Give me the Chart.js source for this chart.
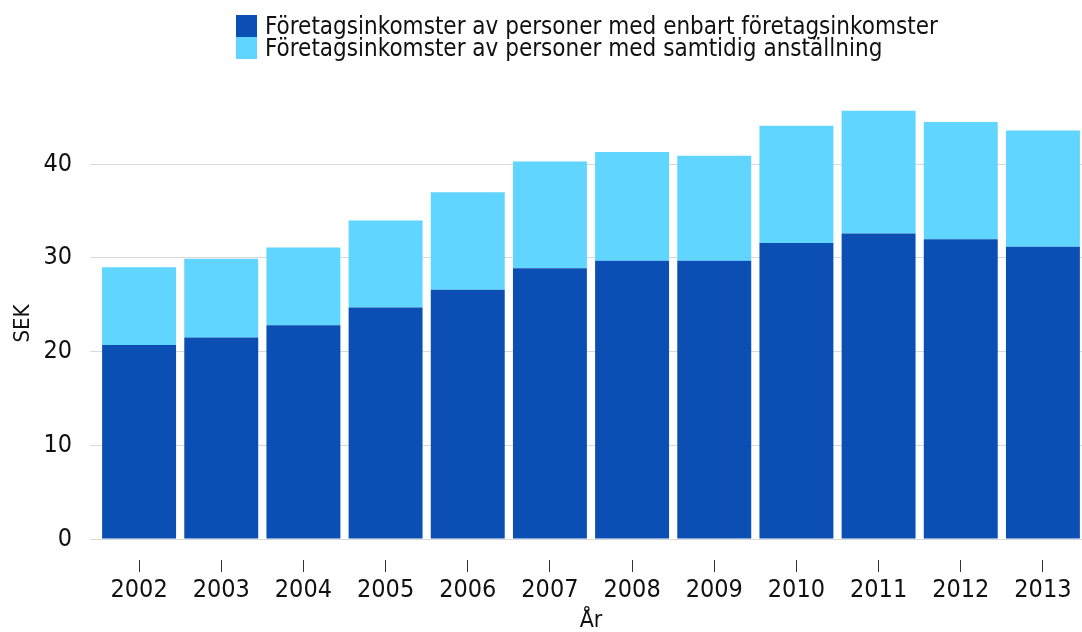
<!DOCTYPE html>
<html><head><meta charset="utf-8">
<script src="https://cdn.jsdelivr.net/npm/chart.js@4"></script>
<style>
html,body{margin:0;padding:0;background:#fff;overflow:hidden;width:1082px;height:632px;}
#wrap{position:absolute;left:0;top:0;width:1084px;height:632px;}
#legend{position:absolute;left:236px;top:15px;font-family:"DejaVu Sans Condensed","DejaVu Sans";font-size:24px;color:#111;line-height:22px;}
.li{display:flex;align-items:center;height:22px;}
.sw{width:21px;height:22px;margin-right:8px;flex:none;}
</style></head>
<body>
<div id="wrap"><canvas id="c" width="1084" height="632"></canvas></div>
<div id="legend"></div>
<script>
const categories = ["2002","2003","2004","2005","2006","2007","2008","2009","2010","2011","2012","2013"];
const seriesNames = ["Företagsinkomster av personer med enbart företagsinkomster","Företagsinkomster av personer med samtidig anställning"];
const onlyBusiness = [20.7,21.5,22.8,24.7,26.6,28.9,29.7,29.7,31.6,32.6,32.0,31.2];
const withEmployment = [8.3,8.4,8.3,9.3,10.4,11.4,11.6,11.2,12.5,13.1,12.5,12.4];
const yTicks = [0,10,20,30,40];
const colors = ["#0B4FB5","#5FD5FF"];
const FONT = "'DejaVu Sans Condensed','DejaVu Sans'";

const leg = document.getElementById('legend');
seriesNames.forEach((n,i)=>{
  const d=document.createElement('div');d.className='li';
  const s=document.createElement('span');s.className='sw';s.style.background=colors[i];
  const t=document.createElement('span');t.textContent=n;
  d.appendChild(s);d.appendChild(t);leg.appendChild(d);
});

new Chart(document.getElementById('c'),{
  type:'bar',
  data:{labels:categories,datasets:[
    {label:seriesNames[0],data:onlyBusiness,backgroundColor:colors[0],borderWidth:0},
    {label:seriesNames[1],data:withEmployment,backgroundColor:colors[1],borderWidth:0}
  ]},
  options:{
    responsive:false,animation:false,
    layout:{padding:{left:10,top:108,right:0,bottom:0}},
    plugins:{legend:{display:false},tooltip:{enabled:false}},
    datasets:{bar:{barPercentage:0.9,categoryPercentage:1}},
    scales:{
      x:{stacked:true,
        border:{display:false},
        grid:{offset:false,drawOnChartArea:false,tickLength:33,tickBorderDash:[0,21,12,100],tickColor:'#333',tickWidth:1},
        ticks:{padding:3,color:'#111',font:{family:FONT,size:25}},
        title:{display:true,text:'År',color:'#111',font:{family:FONT,size:23},padding:{top:0,bottom:-3}},
        afterFit:s=>{s.height=93;}
      },
      y:{stacked:true,min:0,max:46,
        border:{display:false},
        grid:{color:'#d9d9d9',tickLength:8,tickColor:'#d9d9d9'},
        ticks:{stepSize:10,padding:18,color:'#111',font:{family:FONT,size:25}},
        afterBuildTicks:s=>{s.ticks=yTicks.map(v=>({value:v}));},
        title:{display:true,text:'SEK',color:'#111',font:{family:FONT,size:22},padding:{top:0,bottom:0}},
        afterFit:s=>{s.width=88;}
      }
    }
  }
});
</script>
</body></html>
